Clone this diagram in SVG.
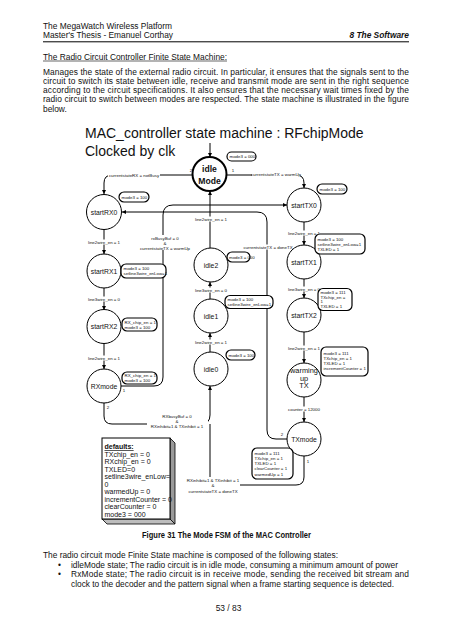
<svg xmlns="http://www.w3.org/2000/svg" width="452" height="640" viewBox="0 0 452 640">
<defs>
<marker id="ah" viewBox="0 0 6 6" refX="6" refY="3" markerWidth="4" markerHeight="4" orient="auto" markerUnits="userSpaceOnUse">
<path d="M0,0 L6,3 L0,6 z" fill="#000"/>
</marker>
</defs>
<style>
text{font-family:"Liberation Sans",Arial,sans-serif;fill:#111}
.doc{font-size:8.4px}
.ttl{font-size:14px}
.st{fill:#fff;stroke:#000;stroke-width:1}
.sl{font-size:6.8px;text-anchor:middle}
.bx{fill:#fff;stroke:#000;stroke-width:1.2}
.bt{font-size:4.4px}
.lb{font-size:4.4px;text-anchor:middle}
.lbg{fill:#fff;stroke:none}
.cn{fill:none;stroke:#000;stroke-width:1}
.df{font-size:7px}
</style>
<rect width="452" height="640" fill="#fff"/>

<!-- page header -->
<text class="doc" x="43" y="29" textLength="129" lengthAdjust="spacingAndGlyphs">The MegaWatch Wireless Platform</text>
<text class="doc" x="43" y="38.3" textLength="130" lengthAdjust="spacingAndGlyphs">Master's Thesis - Emanuel Corthay</text>
<text class="doc" x="409" y="38.3" text-anchor="end" font-weight="bold" font-style="italic">8 The Software</text>
<line x1="43" y1="41.8" x2="409" y2="41.8" stroke="#000" stroke-width="1"/>
<text class="doc" x="43" y="59.5" textLength="184" lengthAdjust="spacingAndGlyphs">The Radio Circuit Controller Finite State Machine:</text>
<line x1="43" y1="61" x2="227" y2="61" stroke="#000" stroke-width="0.6"/>
<text class="doc" x="43" y="74.7" textLength="366" lengthAdjust="spacing">Manages the state of the external radio circuit.  In particular, it ensures that the signals sent to the</text>
<text class="doc" x="43" y="83.9" textLength="366" lengthAdjust="spacing">circuit to switch its state between idle, receive and transmit mode are sent in the right sequence</text>
<text class="doc" x="43" y="93.1" textLength="366" lengthAdjust="spacing">according to the circuit specifications.  It also ensures that the necessary wait times fixed by the</text>
<text class="doc" x="43" y="102.3" textLength="366" lengthAdjust="spacing">radio circuit to switch between modes are respected.   The state machine is illustrated in the figure</text>
<text class="doc" x="43" y="111.5">below.</text>

<!-- diagram title -->
<text class="ttl" x="85" y="138">MAC_controller state machine : RFchipMode</text>
<text class="ttl" x="85" y="155.5">Clocked by clk</text>

<!-- connectors -->
<g id="connectors">
<path class="cn" d="M210,143 V157" marker-end="url(#ah)"/>
<path class="cn" d="M193,175 H112 Q104,175 104,183 V194" marker-end="url(#ah)"/>
<path class="cn" d="M226,175 H296 Q304,175 304,183 V188" marker-end="url(#ah)"/>
<path class="cn" d="M210,248 V191" marker-end="url(#ah)"/>
<path class="cn" d="M210,299 V282" marker-end="url(#ah)"/>
<path class="cn" d="M210,352 V333" marker-end="url(#ah)"/>
<path class="cn" d="M104,229 V254" marker-end="url(#ah)"/>
<path class="cn" d="M104,288 V310" marker-end="url(#ah)"/>
<path class="cn" d="M104,343 V369" marker-end="url(#ah)"/>
<path class="cn" d="M304,222 V245" marker-end="url(#ah)"/>
<path class="cn" d="M304,279 V298" marker-end="url(#ah)"/>
<path class="cn" d="M304,332 V363" marker-end="url(#ah)"/>
<path class="cn" d="M304,397 V422" marker-end="url(#ah)"/>
<path class="cn" d="M121,386 H154 Q163,386 163,377 V215 Q163,205 173,205 H287" marker-end="url(#ah)"/>
<path class="cn" d="M287,439 H276 Q267,439 267,430 V222 Q267,212 257,212 H122" marker-end="url(#ah)"/>
<path class="cn" d="M104,403 V416 Q104,424 112,424 H201 Q210,424 210,415 V386" marker-end="url(#ah)"/>
<path class="cn" d="M304,456 V477 Q304,485 296,485 H218 Q210,485 210,477 V424"/>
<!-- labels -->
<rect class="lbg" x="108" y="172.5" width="52" height="5"/>
<text class="lb" x="134" y="176.5">currentstateRX = notBusy</text>
<rect class="lbg" x="252" y="171.5" width="48" height="5"/>
<text class="lb" x="276" y="175.5">currentstateTX = warmUp</text>
<text class="lb" x="191" y="172">2</text>
<text class="lb" x="233" y="172">1</text>
<rect class="lbg" x="193" y="216.5" width="36" height="5"/>
<text class="lb" x="211" y="220.5">line2wire_en = 1</text>
<rect class="lbg" x="193" y="287.5" width="36" height="5"/>
<text class="lb" x="211" y="291.5">line3wire_en = 0</text>
<rect class="lbg" x="193" y="339.5" width="36" height="5"/>
<text class="lb" x="211" y="343.5">line2wire_en = 1</text>
<rect class="lbg" x="86" y="239.5" width="36" height="5"/>
<text class="lb" x="104" y="243.5">line2wire_en = 1</text>
<rect class="lbg" x="86" y="296.5" width="36" height="5"/>
<text class="lb" x="104" y="300.5">line3wire_en = 0</text>
<rect class="lbg" x="86" y="355.5" width="36" height="5"/>
<text class="lb" x="104" y="359.5">line2wire_en = 1</text>
<rect class="lbg" x="286" y="230.5" width="36" height="5"/>
<text class="lb" x="304" y="234.5">line2wire_en = 1</text>
<rect class="lbg" x="286" y="286.5" width="36" height="5"/>
<text class="lb" x="304" y="290.5">line3wire_en = 0</text>
<rect class="lbg" x="286" y="345.5" width="36" height="5"/>
<text class="lb" x="304" y="349.5">line2wire_en = 1</text>
<rect class="lbg" x="287" y="406.5" width="34" height="5"/>
<text class="lb" x="304" y="410.5">counter = 12000</text>
<rect class="lbg" x="139" y="235" width="54" height="15"/>
<text class="lb" x="165" y="239.5">rxBusyBuf = 0</text>
<text class="lb" x="165" y="244.5">&amp;</text>
<text class="lb" x="165" y="249.5">currentstateTX = warmUp</text>
<rect class="lbg" x="242" y="244.5" width="52" height="5"/>
<text class="lb" x="268" y="248.5">currentstateTX = doneTX</text>
<text class="lb" x="124" y="392">1</text>
<text class="lb" x="108" y="409">2</text>
<rect class="lbg" x="147" y="413" width="61" height="15"/>
<text class="lb" x="177" y="417.5">RXbusyBuf = 0</text>
<text class="lb" x="177" y="422.5">&amp;</text>
<text class="lb" x="177" y="427.5">RXinhibit=1 &amp; TXinhibit = 1</text>
<text class="lb" x="282" y="436">2</text>
<text class="lb" x="308" y="463">1</text>
<rect class="lbg" x="186" y="477" width="54" height="16"/>
<text class="lb" x="213" y="481.5">RXinhibit=1 &amp; TXinhibit = 1</text>
<text class="lb" x="213" y="487">&amp;</text>
<text class="lb" x="213" y="492.5">currentstateTX = doneTX</text>
</g>

<!-- states -->
<g id="idleMode">
<circle cx="209.5" cy="174" r="17" fill="#fff" stroke="#000" stroke-width="2"/>
<text x="209.5" y="172" font-size="8.6" font-weight="bold" text-anchor="middle">idle</text>
<text x="209.5" y="183.5" font-size="8.6" font-weight="bold" text-anchor="middle">Mode</text>
<rect class="bx" x="227" y="152" width="29" height="9" rx="4.5"/>
<text class="bt" x="229.5" y="158.2">mode3 = 000</text>
</g>
<g id="startRX0">
<circle class="st" cx="104" cy="212" r="17.5"/>
<text class="sl" x="104" y="214.5">startRX0</text>
<rect class="bx" x="119" y="192" width="30" height="10" rx="5"/>
<text class="bt" x="121.5" y="198.5">mode3 = 100</text>
</g>
<g id="startRX1">
<circle class="st" cx="104" cy="271" r="17"/>
<text class="sl" x="104" y="273.5">startRX1</text>
<rect class="bx" x="121" y="264" width="45" height="14" rx="5"/>
<text class="bt" x="123.5" y="269.5">mode3 = 100</text>
<text class="bt" x="123.5" y="275">setline3wire_enLow=1</text>
</g>
<g id="startRX2">
<circle class="st" cx="104" cy="326.5" r="17"/>
<text class="sl" x="104" y="329">startRX2</text>
<rect class="bx" x="122" y="318" width="35" height="13" rx="5"/>
<text class="bt" x="124.5" y="323.5">RX_chip_en = 1</text>
<text class="bt" x="124.5" y="328.5">mode3 = 100</text>
</g>
<g id="RXmode">
<circle class="st" cx="104" cy="386" r="17"/>
<text class="sl" x="104" y="388.5">RXmode</text>
<rect class="bx" x="122" y="372" width="35" height="12" rx="5"/>
<text class="bt" x="124.5" y="377">RX_chip_en = 1</text>
<text class="bt" x="124.5" y="382">mode3 = 100</text>
</g>
<g id="idle2">
<circle class="st" cx="211" cy="265" r="17"/>
<text class="sl" x="211" y="267.5">idle2</text>
<rect class="bx" x="227" y="252" width="23" height="10" rx="5"/>
<text class="bt" x="229" y="258.5">mode3 = 000</text>
</g>
<g id="idle1">
<circle class="st" cx="211" cy="316" r="17"/>
<text class="sl" x="211" y="318.5">idle1</text>
<rect class="bx" x="225" y="295.5" width="48" height="13" rx="5"/>
<text class="bt" x="227.5" y="300.8">mode3 = 100</text>
<text class="bt" x="227.5" y="305.8">setline3wire_enLow=1</text>
</g>
<g id="idle0">
<circle class="st" cx="211" cy="369" r="17"/>
<text class="sl" x="211" y="371.5">idle0</text>
<rect class="bx" x="226" y="350" width="29" height="10" rx="5"/>
<text class="bt" x="228.5" y="356.5">mode3 = 100</text>
</g>
<g id="startTX0">
<circle class="st" cx="304" cy="205" r="17"/>
<text class="sl" x="304" y="207.5">startTX0</text>
<rect class="bx" x="317" y="184" width="30" height="10" rx="5"/>
<text class="bt" x="319.5" y="190.5">mode3 = 100</text>
</g>
<g id="startTX1">
<circle class="st" cx="304" cy="262" r="17"/>
<text class="sl" x="304" y="264.5">startTX1</text>
<rect class="bx" x="315" y="234" width="50" height="20" rx="5"/>
<text class="bt" x="317.5" y="240.8">mode3 = 100</text>
<text class="bt" x="317.5" y="245.5">setline3wire_enLow=1</text>
<text class="bt" x="317.5" y="250.8">TXLED = 1</text>
</g>
<g id="startTX2">
<circle class="st" cx="304" cy="315" r="17"/>
<text class="sl" x="304" y="317.5">startTX2</text>
<rect class="bx" x="318" y="288.5" width="34" height="22" rx="5"/>
<text class="bt" x="320.5" y="293.8">mode3 = 111</text>
<text class="bt" x="320.5" y="298.6">TXchip_en =</text>
<text class="bt" x="320.5" y="303.4">1</text>
<text class="bt" x="320.5" y="308.2">TXLED = 1</text>
</g>
<g id="warmingUpTX">
<circle class="st" cx="304" cy="380" r="17"/>
<text x="304" y="372.5" font-size="7.4" text-anchor="middle">warming</text>
<text x="304" y="380.5" font-size="7.4" text-anchor="middle">up</text>
<text x="304" y="388" font-size="7.4" text-anchor="middle">TX</text>
<rect class="bx" x="321" y="347" width="47" height="29" rx="5"/>
<text class="bt" x="323.5" y="355">mode3 = 111</text>
<text class="bt" x="323.5" y="360.2">TXchip_en = 1</text>
<text class="bt" x="323.5" y="365">TXLED = 1</text>
<text class="bt" x="323.5" y="370">incrementCounter = 1</text>
</g>
<g id="TXmode">
<circle class="st" cx="304" cy="439" r="17"/>
<text class="sl" x="304" y="441.5">TXmode</text>
<rect class="bx" x="252" y="448" width="41" height="31" rx="5"/>
<text class="bt" x="254.5" y="455">mode3 = 111</text>
<text class="bt" x="254.5" y="460">TXchip_en = 1</text>
<text class="bt" x="254.5" y="465">TXLED = 1</text>
<text class="bt" x="254.5" y="470">clearCounter = 1</text>
<text class="bt" x="254.5" y="475.5">warmedUp = 1</text>
</g>

<!-- defaults box -->
<g id="defaults">
<polygon points="170,438 175,443 175,524 170,519" fill="#9a9a9a" stroke="#000" stroke-width="0.8"/>
<polygon points="102,519 170,519 175,524 107,524" fill="#bdbdbd" stroke="#000" stroke-width="0.8"/>
<rect x="102" y="438" width="68" height="81" fill="#fff" stroke="#000" stroke-width="1"/>
<text class="df" x="104.5" y="449" font-weight="bold" text-decoration="underline">defaults:</text>
<text class="df" x="104.5" y="456.5">TXchip_en = 0</text>
<text class="df" x="104.5" y="464">RXchip_en = 0</text>
<text class="df" x="104.5" y="471.5">TXLED=0</text>
<text class="df" x="104.5" y="479">setline3wire_enLow=</text>
<text class="df" x="104.5" y="486.5">0</text>
<text class="df" x="104.5" y="494">warmedUp = 0</text>
<text class="df" x="104.5" y="501.5">incrementCounter = 0</text>
<text class="df" x="104.5" y="509">clearCounter = 0</text>
<text class="df" x="104.5" y="516.5">mode3 = 000</text>
</g>

<!-- caption and body -->
<text class="doc" x="226.5" y="538" text-anchor="middle" font-weight="bold" textLength="169" lengthAdjust="spacingAndGlyphs">Figure 31 The Mode FSM of the MAC Controller</text>
<text class="doc" x="43" y="557.5" textLength="295" lengthAdjust="spacingAndGlyphs">The radio circuit mode Finite State machine is composed of the following states:</text>
<text class="doc" x="58" y="567.5">•</text>
<text class="doc" x="71" y="567.5" textLength="327" lengthAdjust="spacingAndGlyphs">idleMode state; The radio circuit is in idle mode, consuming a minimum amount of power</text>
<text class="doc" x="58" y="577.3">•</text>
<text class="doc" x="71" y="577.3" textLength="338" lengthAdjust="spacing">RxMode state; The radio circuit is in receive mode, sending the received bit stream and</text>
<text class="doc" x="71" y="586.8" textLength="323" lengthAdjust="spacingAndGlyphs">clock to the decoder and the pattern signal when a frame starting sequence is detected.</text>
<text class="doc" x="228.5" y="611" text-anchor="middle">53 / 83</text>
</svg>
